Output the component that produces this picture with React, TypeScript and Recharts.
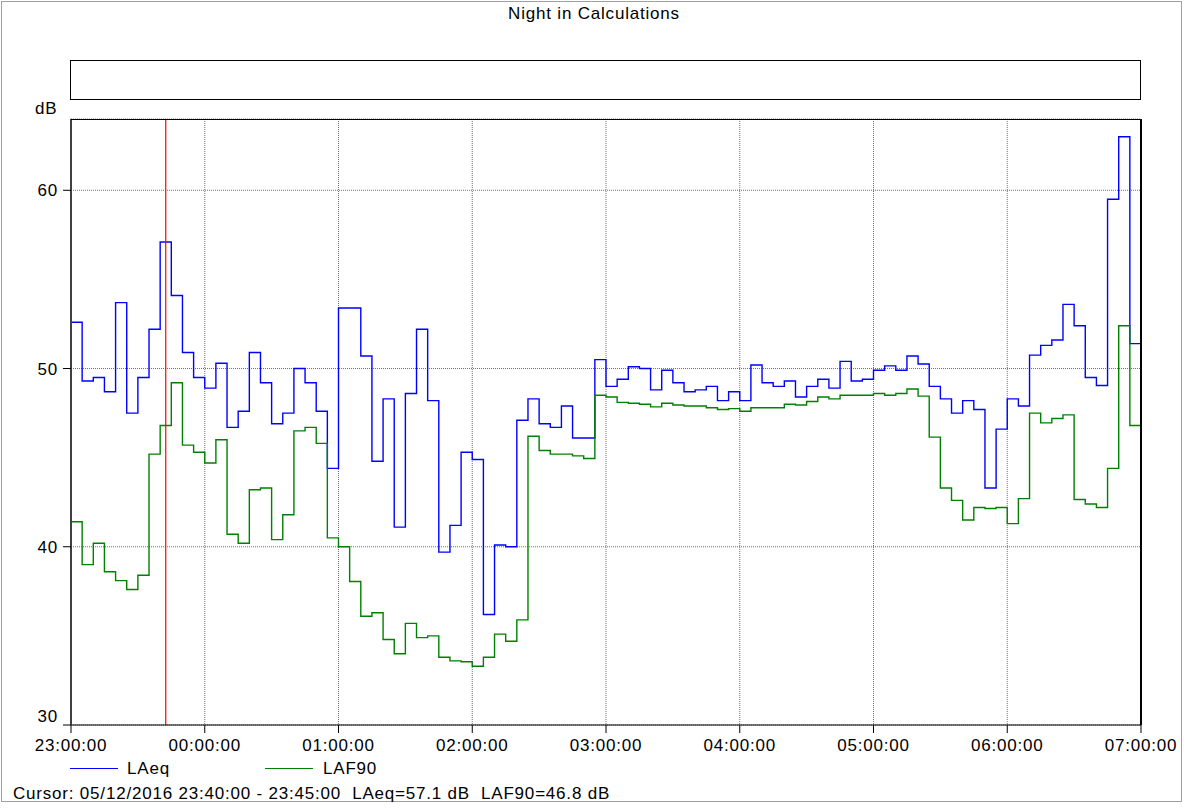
import { LineChart, Line, XAxis, YAxis, CartesianGrid, ReferenceLine } from 'recharts'

// 5-minute values from 23:00 to 06:55
const LAEQ = [
  52.6, 49.3, 49.5, 48.7, 53.7, 47.5, 49.5, 52.2, 57.1, 54.1, 50.9, 49.5,
  48.9, 50.3, 46.7, 47.6, 50.9, 49.2, 46.9, 47.5, 50.0, 49.2, 47.6, 44.4,
  53.4, 53.4, 50.7, 44.8, 48.3, 41.1, 48.6, 52.2, 48.2, 39.7, 41.2, 45.3,
  44.9, 36.2, 40.1, 40.0, 47.1, 48.3, 46.9, 46.7, 47.9, 46.1, 46.1, 50.5,
  49.0, 49.4, 50.1, 50.0, 48.8, 49.9, 49.2, 48.7, 48.8, 49.0, 48.2, 48.7,
  48.2, 50.2, 49.2, 49.0, 49.3, 48.4, 49.0, 49.4, 48.9, 50.4, 49.3, 49.4,
  49.9, 50.15, 49.9, 50.7, 50.25, 49.0, 48.3, 47.5, 48.2, 47.7, 43.3, 46.6,
  48.3, 47.9, 50.75, 51.3, 51.6, 53.6, 52.4, 49.5, 49.05, 59.5, 63.0, 51.4,
]
const LAF90 = [
  41.4, 39.0, 40.2, 38.6, 38.1, 37.6, 38.4, 45.2, 46.8, 49.2, 45.7, 45.3,
  44.7, 46.0, 40.7, 40.2, 43.2, 43.3, 40.4, 41.8, 46.5, 46.7, 45.8, 40.5,
  40.0, 38.05, 36.1, 36.3, 34.8, 34.0, 35.7, 34.9, 35.0, 33.8, 33.6, 33.55,
  33.3, 33.8, 35.1, 34.7, 35.9, 46.2, 45.4, 45.2, 45.2, 45.1, 44.95, 48.5,
  48.4, 48.1, 48.05, 48.0, 47.85, 48.05, 47.95, 47.9, 47.9, 47.8, 47.7, 47.75,
  47.6, 47.8, 47.8, 47.8, 48.0, 47.95, 48.15, 48.4, 48.3, 48.5, 48.5, 48.5,
  48.6, 48.5, 48.6, 48.85, 48.45, 46.15, 43.3, 42.6, 41.5, 42.2, 42.15, 42.2,
  41.3, 42.7, 47.5, 46.95, 47.2, 47.4, 42.65, 42.4, 42.2, 44.4, 52.4, 46.8,
]
const STEP_MIN = 5
const X_TICKS = [0, 60, 120, 180, 240, 300, 360, 420, 480]
const X_LABELS = ['23:00:00', '00:00:00', '01:00:00', '02:00:00', '03:00:00', '04:00:00', '05:00:00', '06:00:00', '07:00:00']
const Y_TICKS = [30, 40, 50, 60]
const CURSOR_MIN = 42.5
const CURSOR_TEXT = 'Cursor: 05/12/2016 23:40:00 - 23:45:00  LAeq=57.1 dB  LAF90=46.8 dB'

const FONT = '"Liberation Sans", Arial, sans-serif'
const FS = 17
const LS = 0.8

// stepAfter needs a closing point at the end of the last interval
const data = LAEQ.map((v, i) => ({ t: i * STEP_MIN, laeq: v, laf90: LAF90[i] }))
data.push({ t: LAEQ.length * STEP_MIN, laeq: LAEQ[LAEQ.length - 1], laf90: LAF90[LAF90.length - 1] })

function YTick({ x, y, payload }: any) {
  const dy = payload.value === 30 ? -9 : 0
  return (
    <text x={x} y={y + dy} dy="0.355em" textAnchor="end" fontSize={FS} fontFamily={FONT} letterSpacing={LS} fill="#000">
      {payload.value}
    </text>
  )
}

function XTick({ x, y, payload }: any) {
  return (
    <text x={x} y={y} dy="0.71em" textAnchor="middle" fontSize={FS} fontFamily={FONT} letterSpacing={LS} fill="#000">
      {X_LABELS[X_TICKS.indexOf(payload.value)]}
    </text>
  )
}

export default function App() {
  return (
    <div style={{ position: 'absolute', left: 0, top: 0, width: 1191, height: 809, background: '#fff' }}>
      <LineChart width={1191} height={809} data={data} margin={{ top: 119, right: 50, bottom: 54, left: 0 }}>
        <CartesianGrid stroke="#707070" strokeDasharray="1 1" />
        <XAxis
          dataKey="t" type="number" domain={[0, 480]} ticks={X_TICKS} interval={0}
          height={30} tickSize={8} tickMargin={6} tick={<XTick />}
          axisLine={{ stroke: '#000' }} tickLine={{ stroke: '#000' }}
        />
        <YAxis
          type="number" domain={[30, 64]} ticks={Y_TICKS} interval={0} allowDataOverflow
          width={71} tickSize={8} tickMargin={5} tick={<YTick />}
          axisLine={{ stroke: '#404040', strokeWidth: 2 }} tickLine={{ stroke: '#000' }}
        />
        <Line type="stepAfter" dataKey="laeq" stroke="#0000ff" strokeWidth={1.4} dot={false} isAnimationActive={false} />
        <Line type="stepAfter" dataKey="laf90" stroke="#008000" strokeWidth={1.4} dot={false} isAnimationActive={false} />
        <ReferenceLine x={CURSOR_MIN} stroke="#ff0000" strokeWidth={1.2} />
      </LineChart>
      <svg width={1191} height={809} style={{ position: 'absolute', left: 0, top: 0, pointerEvents: 'none' }}>
        <rect x={1.5} y={1.5} width={1180} height={800} fill="none" stroke="#a0a0a0" />
        <text x={594} y={19} textAnchor="middle" fontSize={FS} fontFamily={FONT} letterSpacing={LS}>Night in Calculations</text>
        <rect x={70.5} y={60.5} width={1070} height={39} fill="none" stroke="#000" />
        <text x={35} y={114} fontSize={FS} fontFamily={FONT} letterSpacing={LS}>dB</text>
        <line x1={71} y1={119.5} x2={1141} y2={119.5} stroke="#000" />
        <line x1={1141} y1={119} x2={1141} y2={725} stroke="#000" strokeWidth={2} />
        <line x1={70} y1={768.5} x2={118} y2={768.5} stroke="#0000ff" />
        <text x={127} y={774} fontSize={FS} fontFamily={FONT} letterSpacing={LS}>LAeq</text>
        <line x1={265} y1={768.5} x2={313} y2={768.5} stroke="#008000" />
        <text x={323} y={774} fontSize={FS} fontFamily={FONT} letterSpacing={LS}>LAF90</text>
        <text x={13} y={799} fontSize={FS} fontFamily={FONT} letterSpacing={LS} xmlSpace="preserve" style={{ whiteSpace: 'pre' }}>
          {CURSOR_TEXT}
        </text>
      </svg>
    </div>
  )
}
